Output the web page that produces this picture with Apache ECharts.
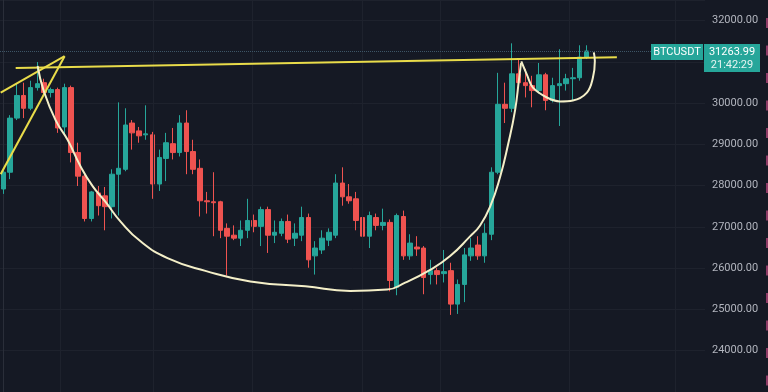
<!DOCTYPE html>
<html>
<head>
<meta charset="utf-8">
<script src="https://cdn.jsdelivr.net/npm/echarts@6/dist/echarts.min.js"></script>
<style>
html,body{margin:0;padding:0;background:#151924;}
#chart{width:768px;height:392px;}
</style>
</head>
<body>
<div id="chart"></div>
<script>
// ---- data ----
const symbolName = 'BTCUSDT';
const lastPrice = 31263.99;
const lastTime = '21:42:29';
const slotCount = 104; // candle slots incl. empty right margin
const yTicks = [23000, 32500, 1000]; // min, max, step

const opens  = [27920,28326,29638,30186,29876,30377,30496,30258,30329,29423,30377,28803,28231,27205,27825,27754,27491,28278,28397,29518,29328,29232,29232,28040,28660,29018,28803,29518,28827,28421,27634,27610,27610,26966,26800,26728,26919,27157,27014,27420,26800,26847,27133,26728,26800,27229,26299,26442,26680,26800,28064,27730,27682,27229,26776,27229,27038,27110,25535,27253,26299,26513,26489,25846,25941,25869,25941,25130,25607,26299,26561,26299,26823,28326,29972,29876,30711,30496,30425,30305,30687,30067,30425,30472,30592,30616,31116];
const closes = [28326,29638,30186,29876,30377,30472,30258,30329,29399,30377,28803,28231,27205,27849,27515,27491,28278,28421,29471,29280,29208,29256,28040,28684,29041,28803,29518,28827,28397,27634,27610,27587,26919,26776,26728,26919,27157,27014,27420,26800,26871,27133,26704,26847,27229,26203,26489,26728,26871,28064,27730,27634,27157,26776,27277,27038,27110,25702,27277,26299,26609,26466,25774,25941,25846,25917,25130,25607,26323,26489,26299,26847,28326,29972,29876,30711,30496,30425,30305,30687,30067,30425,30472,30592,30616,31116,31263.99];
const lows   = [27801,28159,29590,29638,29828,30305,30186,30139,29280,29232,28564,27992,27133,27133,27277,26919,27205,27277,28350,28874,29041,29113,27682,27873,28111,28636,28708,28278,28278,27253,27324,26776,26728,25822,26680,26537,26728,26871,26537,26370,26609,26776,26609,26537,26656,26012,25846,26346,26537,26728,27515,27563,26919,26561,26489,26919,26919,25440,25345,26203,26203,26299,25369,25607,25607,25655,24868,24892,25178,26179,26203,26132,26680,28278,29518,29781,30449,30139,29900,30234,29828,30019,29447,30305,30067,30544,31069];
const highs  = [28397,29709,30472,30496,30544,30997,30592,30377,30377,30472,30425,29041,28278,27873,27992,27968,28397,30019,29876,29590,29423,29948,29304,28874,29280,29399,29709,29828,29113,28636,27849,28326,27634,27086,27038,27157,27682,27300,27491,27491,27157,27205,27300,27086,27491,27324,26656,26919,26966,28278,28445,28040,27849,27324,27372,27324,27443,27181,27324,27396,26823,26776,26537,26203,26012,26442,26132,25726,26489,26728,26776,27086,28445,30735,30496,31450,31093,30830,30663,30973,30735,30616,31307,30711,30854,31403,31403];

// hand-drawn annotations, in (slot index, price)
const resistanceLine = [[1.81,30853],[90.5,31115]];
const pennantUpper   = [[-0.4,30256],[9.03,31139]];
const pennantLower   = [[-0.4,28278],[9.03,31139]];
const cupCurve = [[5.05,30901],[5.94,30304],[7.70,29588],[9.47,29111],[11.39,28466],[13.16,27989],[15.07,27607],[17.29,27130],[20.23,26652],[24.21,26246],[29.80,25936],[36.43,25680],[44.53,25560],[51.16,25450],[56.61,25482],[59.27,25650],[62.95,25960],[65.9,26294],[68.84,26771],[70.32,27034],[71.79,27487],[73.26,28204],[74.44,28991],[75.48,29827],[76.07,30590],[76.36,30972]];
const handleCurve = [[76.4,31010],[77.24,30686],[78.12,30376],[80.18,30137],[82.1,30042],[84.01,30065],[86.08,30256],[86.96,30614],[87.25,31020],[87.1,31230]];
const timeGridSlots = [8.44,22.15,36.74,52.95,64.4,83.5,99.07];

// ---- build ----
const categories = [];
for (let i = 0; i < slotCount; i++) categories.push(String(i));
const candles = opens.map((o, i) => [o, closes[i], lows[i], highs[i]]);

const chart = echarts.init(document.getElementById('chart'), null, {renderer: 'canvas'});
const up = '#26a69a', down = '#ef5350';
chart.setOption({
  backgroundColor: '#151924',
  animation: false,
  grid: {left: -0.7, right: 63, top: -2, bottom: -4, containLabel: false},
  xAxis: [
    {type: 'category', data: categories, boundaryGap: true,
     axisLine: {show: false}, axisTick: {show: false}, axisLabel: {show: false}, splitLine: {show: false}},
    {type: 'value', min: -0.5, max: slotCount - 0.5, show: false}
  ],
  yAxis: {
    type: 'value', position: 'right', min: yTicks[0], max: yTicks[1], interval: yTicks[2],
    axisLine: {show: true, lineStyle: {color: '#2a2e39', width: 1}},
    axisTick: {show: false},
    axisLabel: {show: true, showMinLabel: false, showMaxLabel: false, margin: 7,
      color: '#b2b5be', fontSize: 11, fontFamily: 'Roboto',
      formatter: v => v.toFixed(2)},
    splitLine: {show: true, lineStyle: {color: '#1e222d', width: 1}}
  },
  series: [
    {type: 'line', xAxisIndex: 1, data: [], silent: true,
     markLine: {silent: true, symbol: 'none', label: {show: false},
       lineStyle: {color: '#1e222d', width: 1, type: 'solid'},
       data: timeGridSlots.map(v => ({xAxis: v}))}},
    {type: 'candlestick', data: candles, barWidth: 5,
     itemStyle: {color: up, color0: down, borderColor: up, borderColor0: down, borderWidth: 1},
     markLine: {silent: true, symbol: 'none', label: {show: false},
       lineStyle: {color: '#3d5566', width: 1, type: 'dotted'},
       data: [{yAxis: lastPrice}]}},
    {type: 'line', xAxisIndex: 1, data: pennantUpper, symbol: 'none', z: 5,
     lineStyle: {color: '#e9dc4a', width: 2}},
    {type: 'line', xAxisIndex: 1, data: pennantLower, symbol: 'none', z: 5,
     lineStyle: {color: '#e9dc4a', width: 2}},
    {type: 'line', xAxisIndex: 1, data: resistanceLine, symbol: 'none', z: 5,
     lineStyle: {color: '#e9dc4a', width: 2}},
    {type: 'line', xAxisIndex: 1, data: cupCurve, symbol: 'none', smooth: 0.5, z: 6,
     lineStyle: {color: '#f4efc8', width: 2}},
    {type: 'line', xAxisIndex: 1, data: handleCurve, symbol: 'none', smooth: 0.4, z: 6,
     lineStyle: {color: '#f4efc8', width: 2}}
  ]
});

const yL = chart.convertToPixel({yAxisIndex: 0}, lastPrice);
const axisX = chart.convertToPixel({xAxisIndex: 1}, slotCount - 0.5);
const edge = [];
for (let k = 0; k < 14; k++) {
  edge.push({type: 'rect', shape: {x: 766, y: 18 + k * 27.5, width: 2, height: 10}, style: {fill: '#8e3b66'}});
}
chart.setOption({
  graphic: [
    {type: 'rect', shape: {x: axisX - 54, y: yL - 7, width: 52, height: 16}, style: {fill: up}, z: 10},
    {type: 'text', x: axisX - 28, y: yL + 1, z: 11,
     style: {text: symbolName, fill: '#ffffff', font: '11px Roboto', align: 'center', verticalAlign: 'middle'}},
    {type: 'rect', shape: {x: axisX - 1, y: yL - 7, width: 56, height: 28}, style: {fill: up}, z: 10},
    {type: 'text', x: axisX + 27, y: yL + 1, z: 11,
     style: {text: lastPrice.toFixed(2), fill: '#ffffff', font: '11px Roboto', align: 'center', verticalAlign: 'middle'}},
    {type: 'text', x: axisX + 27, y: yL + 14, z: 11,
     style: {text: lastTime, fill: '#e6f4f2', font: '11px Roboto', align: 'center', verticalAlign: 'middle'}}
  ].concat(edge)
});
</script>
</body>
</html>
